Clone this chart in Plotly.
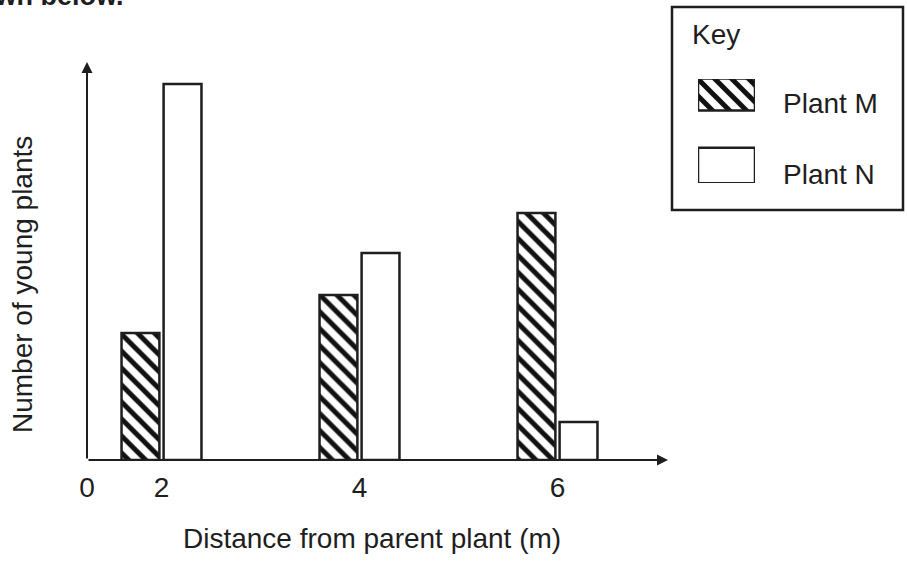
import plotly.graph_objects as go

# Seedling counts at each distance from the parent plant (no scale is printed)
distances = [2, 4, 6]
plant_m = [127, 165, 247]
plant_n = [376, 207, 38]
series_names = ["Plant M", "Plant N"]
tick_labels = ["0", "2", "4", "6"]

W, H = 907, 561
FONT = "Liberation Sans, Arial, sans-serif"
INK = "#1e1e1e"


def px(x):
    return x / W


def py(y):
    return (H - y) / H


X0, X1 = 1.2475, 7.096
Y1 = 398

hatch = dict(shape="\\", fgcolor="#111111", fgopacity=1, bgcolor="white",
             size=12, solidity=0.42)
outline = dict(color=INK, width=2.5)

fig = go.Figure()
fig.add_trace(go.Bar(x=distances, y=plant_m, name=series_names[0],
                     marker=dict(color="white", pattern=hatch, line=outline)))
fig.add_trace(go.Bar(x=distances, y=plant_n, name=series_names[1],
                     marker=dict(color="white", line=outline)))

# Key swatches, drawn as bars on a small inset axis
fig.add_trace(go.Bar(x=[1], y=[1], orientation="h", width=0.45,
                     xaxis="x2", yaxis="y2", showlegend=False, hoverinfo="skip",
                     marker=dict(color="white", pattern=hatch, line=outline)))
fig.add_trace(go.Bar(x=[1], y=[0], orientation="h", width=0.5,
                     xaxis="x2", yaxis="y2", showlegend=False, hoverinfo="skip",
                     marker=dict(color="white", line=outline)))

arrow = dict(xref="x domain", yref="y domain", axref="x domain", ayref="y domain",
             showarrow=True, arrowhead=2, arrowsize=1.1, arrowwidth=2,
             arrowcolor=INK, text="")


def label(x, y, text, size=28, **kw):
    d = dict(x=px(x), y=py(y), xref="paper", yref="paper", text=text,
             showarrow=False, xanchor="center", yanchor="middle",
             font=dict(family=FONT, size=size, color=INK))
    d.update(kw)
    return d


annotations = [
    # axis arrows from the origin
    dict(arrow, x=0, y=1, ax=0, ay=0),
    dict(arrow, x=1.0035, y=0, ax=0, ay=0),
    # axis titles
    label(22, 285, "Number of young plants", textangle=-90),
    label(372, 538, "Distance from parent plant (m)"),
    # key text
    label(690, 35, "Key", xanchor="left"),
    label(781, 103, series_names[0], xanchor="left"),
    label(781, 175, series_names[1], xanchor="left"),
    # end of the sentence above the chart
    label(126, 13, "<b>as shown below.</b>", size=27, xanchor="right", yanchor="bottom"),
]

shapes = [
    dict(type="rect", xref="paper", yref="paper", x0=px(672), x1=px(903),
         y0=py(210), y1=py(7), line=dict(color=INK, width=2.5), fillcolor="rgba(0,0,0,0)"),
]

fig.update_layout(
    width=W, height=H,
    margin=dict(l=0, r=0, t=0, b=0),
    paper_bgcolor="white", plot_bgcolor="white",
    showlegend=False,
    barmode="group", bargap=0.575, bargroupgap=0.1,
    xaxis=dict(domain=[px(87), px(666)], range=[X0, X1], automargin=False,
               tickvals=[X0] + distances, ticktext=tick_labels,
               showgrid=False, zeroline=False, showline=False, ticks="",
               ticklabelstandoff=8,
               tickfont=dict(family=FONT, size=28, color=INK)),
    yaxis=dict(domain=[py(460), py(62)], range=[0, Y1], automargin=False,
               showgrid=False, zeroline=False, showline=False,
               showticklabels=False, ticks=""),
    xaxis2=dict(domain=[px(698), px(755)], range=[0, 1], anchor="y2",
                visible=False, fixedrange=True, automargin=False),
    yaxis2=dict(domain=[py(183), py(79)], range=[-0.246, 1.218], anchor="x2",
                visible=False, fixedrange=True, automargin=False),
    annotations=annotations,
    shapes=shapes,
)

fig.write_html("out.html")
